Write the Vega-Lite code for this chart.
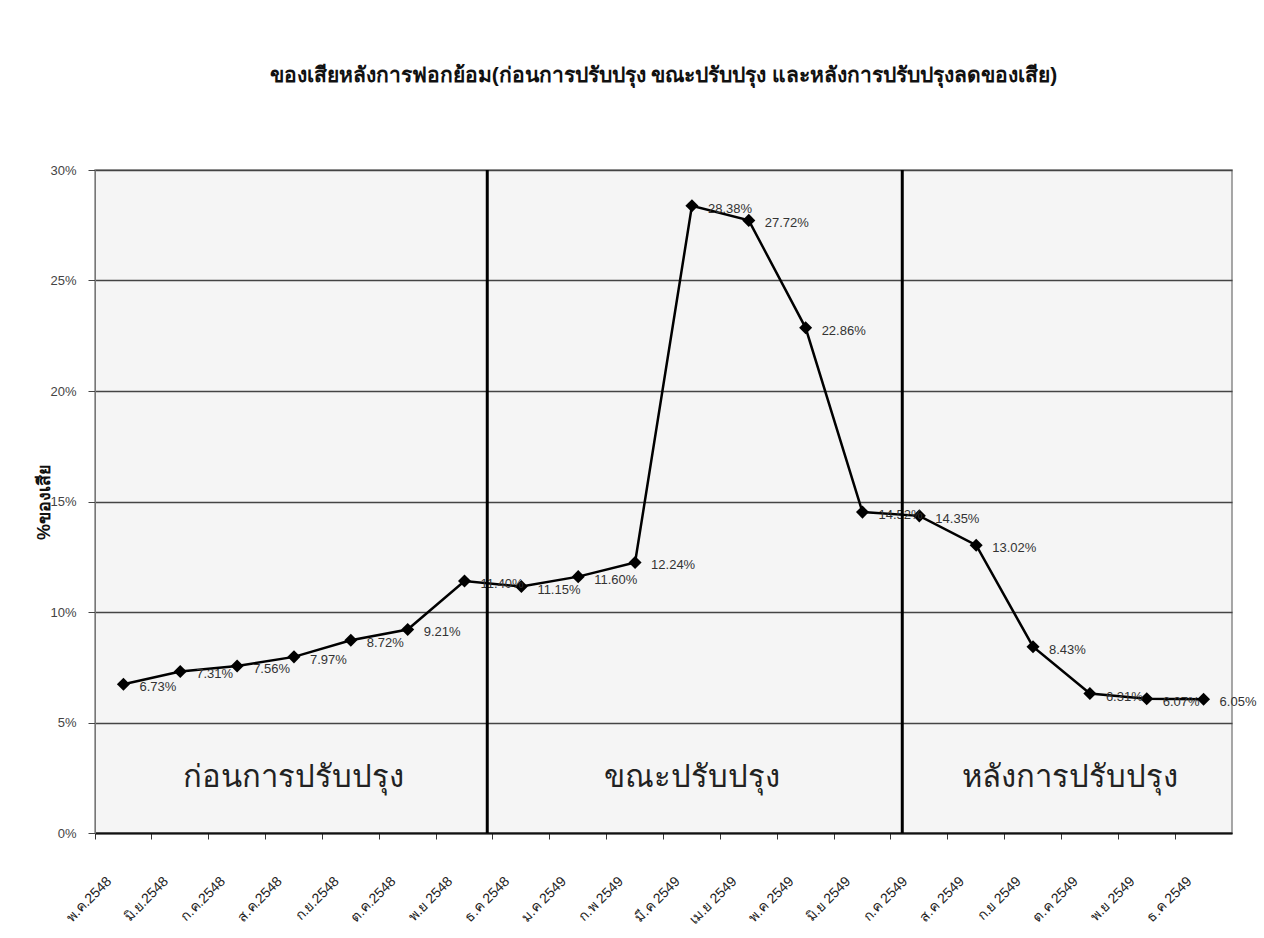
{
  "$schema": "https://vega.github.io/schema/vega-lite/v6.json",
  "autosize": {"type": "none"},
  "width": 1137,
  "height": 663,
  "padding": {"left": 95, "top": 170, "right": 32, "bottom": 105},
  "background": "white",
  "title": {
    "text": "ของเสียหลังการฟอกย้อม(ก่อนการปรับปรุง ขณะปรับปรุง และหลังการปรับปรุงลดของเสีย)",
    "fontSize": 21,
    "fontWeight": "bold",
    "font": "Liberation Sans",
    "color": "#111",
    "anchor": "middle",
    "offset": 78
  },
  "datasets": {
    "waste": [
      {"month": "พ.ค.2548", "rate": 0.0673},
      {"month": "มิ.ย.2548", "rate": 0.0731},
      {"month": "ก.ค.2548", "rate": 0.0756},
      {"month": "ส.ค.2548", "rate": 0.0797},
      {"month": "ก.ย.2548", "rate": 0.0872},
      {"month": "ต.ค.2548", "rate": 0.0921},
      {"month": "พ.ย 2548", "rate": 0.1140},
      {"month": "ธ.ค 2548", "rate": 0.1115},
      {"month": "ม.ค 2549", "rate": 0.1160},
      {"month": "ก.พ 2549", "rate": 0.1224},
      {"month": "มี.ค 2549", "rate": 0.2838},
      {"month": "เม.ย 2549", "rate": 0.2772},
      {"month": "พ.ค 2549", "rate": 0.2286},
      {"month": "มิ.ย 2549", "rate": 0.1452},
      {"month": "ก.ค 2549", "rate": 0.1435},
      {"month": "ส.ค 2549", "rate": 0.1302},
      {"month": "ก.ย 2549", "rate": 0.0843},
      {"month": "ต.ค 2549", "rate": 0.0631},
      {"month": "พ.ย 2549", "rate": 0.0607},
      {"month": "ธ.ค 2549", "rate": 0.0605}
    ],
    "phases": [
      {"month": "ส.ค.2548", "rate": 0.025, "phase": "ก่อนการปรับปรุง"},
      {"month": "มี.ค 2549", "rate": 0.025, "phase": "ขณะปรับปรุง"},
      {"month": "ต.ค 2549", "rate": 0.025, "phase": "หลังการปรับปรุง"}
    ]
  },
  "config": {
    "view": {"fill": "#f5f5f5", "stroke": "#8a8a8a", "strokeWidth": 1.5},
    "axis": {"labelFont": "Liberation Sans", "titleFont": "Liberation Sans"}
  },
  "layer": [
    {
      "data": {"name": "waste"},
      "mark": {"type": "line", "color": "black", "strokeWidth": 2.5},
      "encoding": {
        "x": {
          "field": "month",
          "type": "nominal",
          "sort": null,
          "scale": {"paddingInner": 0, "paddingOuter": 0},
          "axis": {
            "title": null,
            "bandPosition": 0,
            "labelAngle": -45,
            "labelAlign": "right",
            "labelBaseline": "middle",
            "labelOffset": -14,
            "labelPadding": 40,
            "labelFontSize": 14,
            "labelColor": "#222",
            "tickSize": 6,
            "tickColor": "#333",
            "domainColor": "#111",
            "domainWidth": 2,
            "grid": false
          }
        },
        "y": {
          "field": "rate",
          "type": "quantitative",
          "scale": {"domain": [0, 0.3], "nice": false},
          "axis": {
            "title": "%ของเสีย",
            "titleFontSize": 18,
            "titleFontWeight": "bold",
            "titleColor": "#111",
            "titlePadding": -4,
            "format": ".0%",
            "values": [0, 0.05, 0.1, 0.15, 0.2, 0.25, 0.3],
            "labelFontSize": 13,
            "labelColor": "#444",
            "labelPadding": 12,
            "tickSize": 7,
            "tickColor": "#444",
            "domainColor": "#777",
            "grid": true,
            "gridColor": "#444",
            "gridWidth": 1.5
          }
        }
      }
    },
    {
      "data": {"name": "waste"},
      "mark": {"type": "point", "shape": "diamond", "filled": true, "color": "black", "size": 170, "opacity": 1},
      "encoding": {
        "x": {"field": "month", "type": "nominal", "sort": null},
        "y": {"field": "rate", "type": "quantitative"}
      }
    },
    {
      "data": {"name": "waste"},
      "mark": {"type": "text", "align": "left", "baseline": "middle", "dx": 16, "dy": 3, "fontSize": 13, "font": "Liberation Sans", "color": "#333"},
      "encoding": {
        "x": {"field": "month", "type": "nominal", "sort": null},
        "y": {"field": "rate", "type": "quantitative"},
        "text": {"field": "rate", "type": "quantitative", "format": ".2%"}
      }
    },
    {
      "data": {"values": [{"month": "พ.ย 2548"}]},
      "mark": {"type": "rule", "color": "black", "strokeWidth": 3},
      "encoding": {
        "x": {"field": "month", "type": "nominal", "sort": null, "bandPosition": 0.9}
      }
    },
    {
      "data": {"values": [{"month": "ก.ค 2549"}]},
      "mark": {"type": "rule", "color": "black", "strokeWidth": 3},
      "encoding": {
        "x": {"field": "month", "type": "nominal", "sort": null, "bandPosition": 0.2}
      }
    },
    {
      "data": {"name": "phases"},
      "transform": [{"filter": "datum.phase !== 'หลังการปรับปรุง'"}],
      "mark": {"type": "text", "align": "center", "baseline": "middle", "fontSize": 31, "font": "DejaVu Serif", "color": "#222"},
      "encoding": {
        "x": {"field": "month", "type": "nominal", "sort": null, "bandPosition": 0.5},
        "y": {"field": "rate", "type": "quantitative"},
        "text": {"field": "phase"}
      }
    },
    {
      "data": {"name": "phases"},
      "transform": [{"filter": "datum.phase === 'หลังการปรับปรุง'"}],
      "mark": {"type": "text", "align": "center", "baseline": "middle", "fontSize": 31, "font": "DejaVu Serif", "color": "#222"},
      "encoding": {
        "x": {"field": "month", "type": "nominal", "sort": null, "bandPosition": 0.15},
        "y": {"field": "rate", "type": "quantitative"},
        "text": {"field": "phase"}
      }
    }
  ],
  "resolve": {"scale": {"x": "shared"}}
}
